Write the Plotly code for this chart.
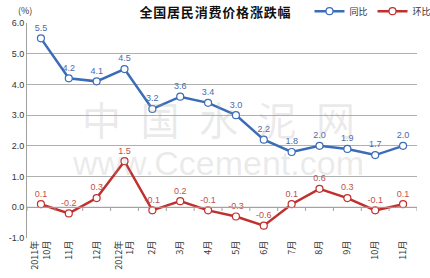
import plotly.graph_objects as go

categories = ["2011年<br>10月", "11月", "12月", "2012年<br>1月", "2月", "3月", "4月",
              "5月", "6月", "7月", "8月", "9月", "10月", "11月"]
yoy = [5.5, 4.2, 4.1, 4.5, 3.2, 3.6, 3.4, 3.0, 2.2, 1.8, 2.0, 1.9, 1.7, 2.0]
mom = [0.1, -0.2, 0.3, 1.5, -0.1, 0.2, -0.1, -0.3, -0.6, 0.1, 0.6, 0.3, -0.1, 0.1]
y_ticks = [-1, 0, 1, 2, 3, 4, 5, 6]
title_text = "全国居民消费价格涨跌幅"
watermark_cn = "中国水泥网"
watermark_en = "www.Ccement.com"

blue = "#3b6cb7"
red = "#c0302e"
idx = list(range(len(categories)))

fig = go.Figure()
fig.add_trace(go.Scatter(
    x=idx, y=yoy, name="同比", mode="lines+markers+text",
    line=dict(color=blue, width=2.5),
    marker=dict(symbol="circle", size=7, color="white", line=dict(color=blue, width=1.2)),
    text=[f"{v:.1f}" for v in yoy], textposition="top center",
    textfont=dict(size=9, color="#4a6bab", family="Arial"), cliponaxis=False))
fig.add_trace(go.Scatter(
    x=idx, y=mom, name="环比", mode="lines+markers+text",
    line=dict(color=red, width=2.5),
    marker=dict(symbol="circle", size=7, color="white", line=dict(color=red, width=1.2)),
    text=[f"{v:.1f}" for v in mom], textposition="top center",
    textfont=dict(size=9, color="#c0504d", family="Arial"), cliponaxis=False))

shapes = []
for i in range(len(categories) + 1):
    shapes.append(dict(type="line", xref="x", yref="y", x0=i - 0.5, x1=i - 0.5,
                       y0=0, y1=-0.12, line=dict(color="#a0a0a0", width=1)))
shapes.append(dict(type="line", xref="x", yref="y", x0=-0.5, x1=len(categories) - 0.5,
                   y0=0, y1=0, line=dict(color="#a0a0a0", width=1)))

annotations = [
    dict(text="(%)", xref="paper", yref="paper", x=-0.005, y=1.0, yshift=4,
         xanchor="center", yanchor="bottom",
         showarrow=False, font=dict(size=9, color="#333", family="Noto Sans CJK SC")),
    dict(text="\u2002".join(watermark_cn), xref="paper", yref="paper", x=0.49, y=0.56,
         showarrow=False, font=dict(size=39, color="rgba(160,160,160,0.22)",
                                      family="Noto Sans CJK SC")),
    dict(text=watermark_en, xref="paper", yref="paper", x=0.49, y=0.35,
         showarrow=False, font=dict(size=34, color="rgba(160,160,160,0.22)",
                                      family="Arial")),
]

fig.update_layout(
    width=430, height=278,
    margin=dict(l=27, r=13, t=23, b=40, autoexpand=False),
    paper_bgcolor="white", plot_bgcolor="white",
    title=dict(text="<b>" + "\u200a".join(title_text) + "</b>", x=0.5, xanchor="center",
               y=0.955, yanchor="middle",
               font=dict(size=13, color="#111", family="Noto Sans CJK SC")),
    showlegend=True,
    legend=dict(orientation="h", x=1.05, xanchor="right", y=1.055, yanchor="middle",
                font=dict(size=9, color="#333", family="Noto Sans CJK SC"),
                itemwidth=30, bgcolor="rgba(0,0,0,0)", tracegroupgap=0),
    xaxis=dict(tickmode="array", tickvals=idx, ticktext=categories, tickangle=-90,
               range=[-0.5, len(categories) - 0.5], showgrid=False, zeroline=False,
               showline=False, ticks="", automargin=False,
               tickfont=dict(size=9, color="#333", family="Noto Sans CJK SC")),
    yaxis=dict(range=[-1, 6], tickmode="array", tickvals=y_ticks,
               ticktext=[f"{v:.1f}" for v in y_ticks], showgrid=True,
               gridcolor="#b0b0b0", gridwidth=1, zeroline=False,
               showline=True, linecolor="#a0a0a0", linewidth=1, automargin=False,
               tickfont=dict(size=9, color="#333", family="Arial"), ticks=""),
    shapes=shapes, annotations=annotations,
)

fig.write_html("out.html")
